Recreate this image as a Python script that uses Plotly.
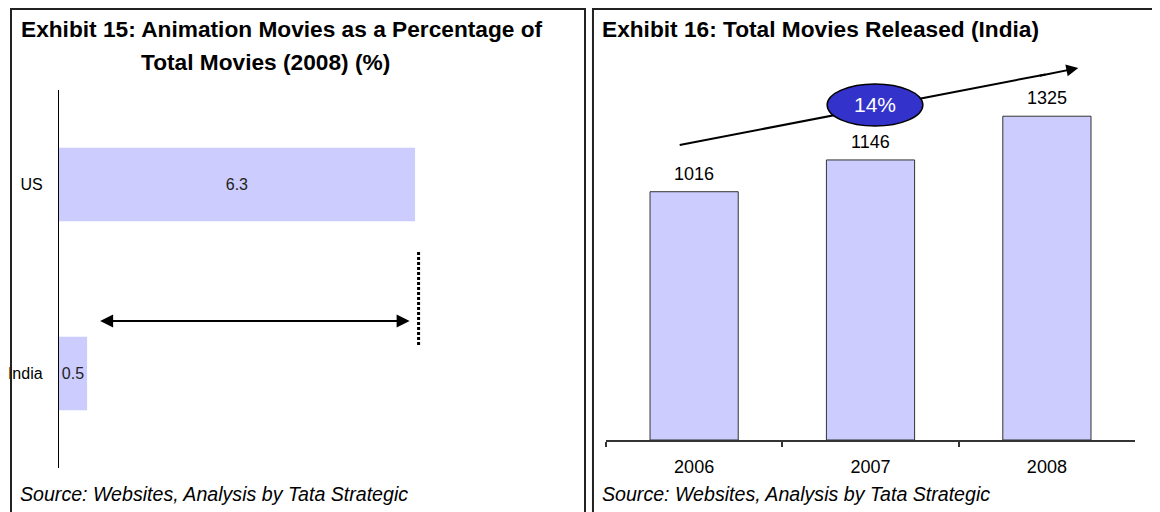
import plotly.graph_objects as go

# Exhibit 15: animation movies as % of total (2008)
countries = ["India", "US"]
anim_share = [0.5, 6.3]

# Exhibit 16: total movies released in India
years = ["2006", "2007", "2008"]
movies = [1016, 1146, 1325]

# page body adds an 8px margin, so the figure is a bit smaller than the window
OFF = 8
W, H = 1160 - OFF, 512 - OFF
BAR = "#CCCCFF"
FONT = "Liberation Sans, Arial, sans-serif"


def px(x):
    return (x - OFF) / W


def py(y):
    return 1 - (y - OFF) / H


# growth between first and last year, shown in the ellipse
cagr = (movies[-1] / movies[0]) ** (1 / (len(movies) - 1)) - 1

fig = go.Figure()

fig.add_trace(go.Bar(
    y=countries, x=anim_share, orientation="h", width=0.39,
    marker=dict(color=BAR, line=dict(width=0)),
    text=[f"{v:.1f}" for v in anim_share], textposition="inside", textangle=0,
    insidetextanchor="middle", constraintext="none",
    textfont=dict(size=16, color="#222", family=FONT),
    xaxis="x", yaxis="y", hoverinfo="skip",
))

fig.add_trace(go.Bar(
    x=years, y=movies, width=0.5,
    marker=dict(color=BAR, line=dict(color="#333", width=1)),
    xaxis="x2", yaxis="y2", hoverinfo="skip",
))

annotations = []
# value labels above the India bars (category index as x)
for i, v in enumerate(movies):
    annotations.append(dict(
        x=i, y=v, xref="x2", yref="y2", text=str(v), showarrow=False,
        xanchor="center", yanchor="bottom", yshift=6,
        font=dict(size=18, color="#000", family=FONT),
    ))

texts = [
    dict(x=px(15), y=py(29), text="<b>Exhibit 15: Animation Movies as a Percentage of</b>",
         xanchor="left", size=22.7),
    dict(x=px(262), y=py(62), text="<b>Total Movies (2008) (%)</b>",
         xanchor="center", size=22.7),
    dict(x=px(598), y=py(29), text="<b>Exhibit 16: Total Movies Released (India)</b>",
         xanchor="left", size=22.7),
    dict(x=px(14), y=py(494), text="<i>Source: Websites, Analysis by Tata Strategic</i>",
         xanchor="left", size=19.6),
    dict(x=px(598), y=py(494), text="<i>Source: Websites, Analysis by Tata Strategic</i>",
         xanchor="left", size=19.6),
]
for t in texts:
    size = t.pop("size")
    t.update(xref="paper", yref="paper", yanchor="middle", showarrow=False,
             font=dict(size=size, color="#000", family=FONT))
    annotations.append(t)

# double arrow between India and US bars
annotations.append(dict(
    x=px(407), y=py(321), ax=96 - 407, ay=0, xref="paper", yref="paper",
    text="", showarrow=True, arrowhead=2, startarrowhead=2, arrowside="end+start",
    arrowsize=1.3, startarrowsize=1.3, arrowwidth=2, arrowcolor="#000",
))
# growth arrow head (the shaft is a shape, so the ellipse can sit on top of it)
annotations.append(dict(
    x=px(1078), y=py(68), ax=-40, ay=8, xref="paper", yref="paper",
    text="", showarrow=True, arrowhead=2, arrowsize=1.2, arrowwidth=2, arrowcolor="#000",
))
annotations.append(dict(
    x=px(874), y=py(105), xref="paper", yref="paper", text=f"{cagr:.0%}",
    xanchor="center", yanchor="middle",
    showarrow=False, font=dict(size=21, color="white", family=FONT),
))

shapes = [
    # panel frames
    dict(type="rect", xref="paper", yref="paper", x0=px(7), x1=px(583), y0=-0.05, y1=py(9),
         line=dict(color="#222", width=2)),
    dict(type="rect", xref="paper", yref="paper", x0=px(591), x1=px(1157), y0=-0.05, y1=py(9),
         line=dict(color="#222", width=2)),
    # dotted marker at US level
    dict(type="line", xref="paper", yref="paper", x0=px(416), x1=px(416), y0=py(252), y1=py(347),
         line=dict(color="#000", width=3, dash="3px,2px")),
    # growth arrow shaft
    dict(type="line", xref="paper", yref="paper", x0=px(678), x1=px(1045), y0=py(145), y1=py(74.4),
         line=dict(color="#000", width=2)),
    # growth ellipse
    dict(type="circle", xref="paper", yref="paper", x0=px(826), x1=px(922), y0=py(126), y1=py(84),
         fillcolor="#3333CC", line=dict(color="#000", width=1.5)),
]

fig.update_layout(
    width=W, height=H, margin=dict(l=0, r=0, t=0, b=0),
    paper_bgcolor="white", plot_bgcolor="white", showlegend=False,
    font=dict(family=FONT, color="#000"),
    annotations=annotations, shapes=shapes,
    xaxis=dict(domain=[px(55), px(560)], range=[0, 8.9], visible=False, anchor="y"),
    yaxis=dict(domain=[py(468), py(90)], range=[-0.5, 1.5], anchor="x", type="category",
               categoryorder="array", categoryarray=countries,
               showline=True, linecolor="#000", linewidth=1, ticks="",
               ticklabelstandoff=12, tickfont=dict(size=16, color="#000"),
               showgrid=False, zeroline=False),
    xaxis2=dict(domain=[px(604), px(1135)], range=[-0.5, 2.5], anchor="y2", type="category",
                showline=True, linecolor="#333", linewidth=1.5,
                ticks="outside", tickson="boundaries", ticklen=5, tickcolor="#333", tickwidth=1.5,
                tickfont=dict(size=18, color="#000"), ticklabelstandoff=10, showgrid=False),
    yaxis2=dict(domain=[py(440), py(60)], range=[0, 1555], visible=False, anchor="x2"),
)

fig.write_html("out.html")
